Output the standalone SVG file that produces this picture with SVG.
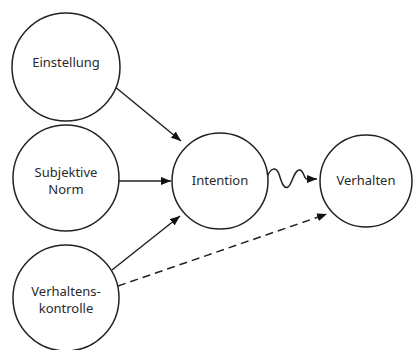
<svg xmlns="http://www.w3.org/2000/svg" width="413" height="350" viewBox="0 0 413 350">
<style>
.n{fill:#fff;stroke:#222;stroke-width:1.5}
.t{font-family:"Noto Sans","DejaVu Sans",sans-serif;font-size:13px;fill:#2a2a2a;text-anchor:middle}
.c{fill:none;stroke:#222;stroke-width:1.5}
</style>
<defs>
<marker id="a" viewBox="0 0 10 8" refX="10" refY="4" markerWidth="10" markerHeight="8" markerUnits="userSpaceOnUse" orient="auto"><path d="M0,0L10,4L0,8Z" fill="#111"/></marker>
</defs>
<rect width="413" height="350" fill="#fff"/>
<g id="connectors">
<line class="c" x1="114" y1="86" x2="181" y2="141" marker-end="url(#a)"/>
<line class="c" x1="119" y1="181" x2="171" y2="181" marker-end="url(#a)"/>
<line class="c" x1="112" y1="270" x2="180" y2="216" marker-end="url(#a)"/>
<line class="c" x1="118" y1="286" x2="327" y2="214" stroke-dasharray="8,5" marker-end="url(#a)"/>
<path class="c" d="M267,177 C271,167 276,167 279,174 C282,184 284,189 288,187 C292,185 294,169 300,170 C304,171 304,179 307,179 L317,179" marker-end="url(#a)"/>
</g>
<g id="einstellung"><circle class="n" cx="66" cy="67" r="54"/><text class="t" x="66" y="67">Einstellung</text></g>
<g id="subjektive-norm"><circle class="n" cx="66" cy="178" r="53"/><text class="t" x="66" y="177">Subjektive</text><text class="t" x="66" y="194">Norm</text></g>
<g id="verhaltenskontrolle"><circle class="n" cx="66" cy="298" r="53"/><text class="t" x="66" y="296">Verhaltens-</text><text class="t" x="66" y="313">kontrolle</text></g>
<g id="intention"><circle class="n" cx="220" cy="181" r="48"/><text class="t" x="220" y="185">Intention</text></g>
<g id="verhalten"><circle class="n" cx="366" cy="181" r="46"/><text class="t" x="366" y="185">Verhalten</text></g>
</svg>
